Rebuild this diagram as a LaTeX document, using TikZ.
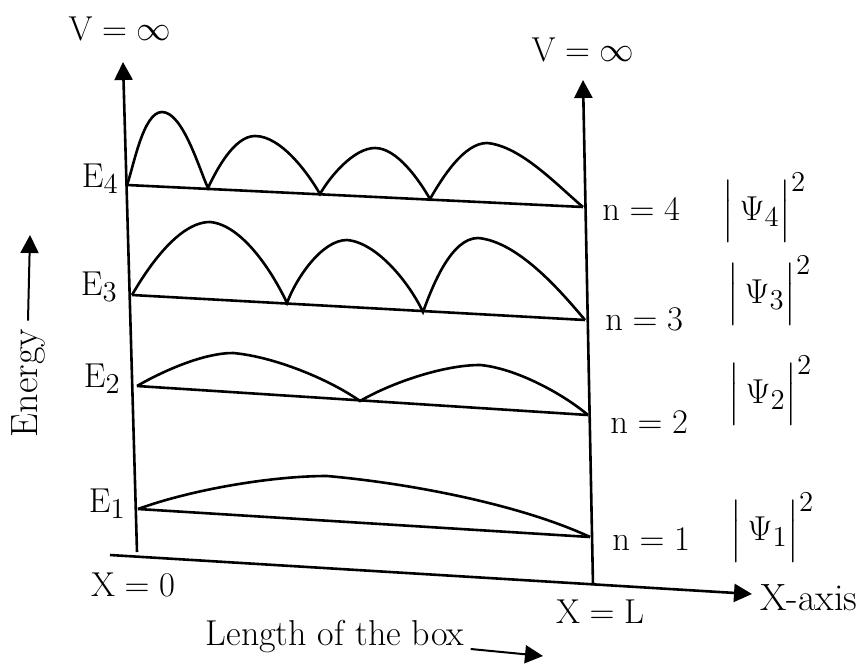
\documentclass[tikz,border=0pt]{standalone}
\usepackage{tikz}
\usetikzlibrary{arrows.meta}
\usepackage{amsmath}

\begin{document}
\begin{tikzpicture}[
  x=0.5pt, y=0.5pt,
  >={Triangle[width=9pt,length=9pt]},
  axis/.style={line width=1.3pt, black},
  level/.style={line width=1.3pt, black},
  wave/.style={line width=1.3pt, black, looseness=0.75},
  label/.style={font=\fontsize{19}{22}\selectfont, inner sep=0pt},
  small/.style={font=\fontsize{17}{20}\selectfont, inner sep=0pt}
]
\useasboundingbox (0,0) rectangle (867,666);

% Walls and x-axis
\coordinate (O) at (137,114);
\coordinate (Vleft) at (123,604);
\coordinate (Lbot) at (593,81);
\coordinate (Vright) at (583,586);
\coordinate (xstart) at (110,111);
\coordinate (xend) at (752,72);
\draw[axis, ->] (O) -- (Vleft);
\draw[axis, ->] (Lbot) -- (Vright);
\draw[axis, ->] (xstart) -- (xend);

\node[label] (vinf1) at (120,637) {$\mathrm{V}=\infty$};
\node[label] (vinf2) at (583,616) {$\mathrm{V}=\infty$};
\node[label] (x0) at (133,81) {$\mathrm{X}=0$};
\node[label] (xL) at (600,54) {$\mathrm{X}=\mathrm{L}$};
\node[label, anchor=west] (xaxis) at (760,68) {X-axis};

% Energy arrow
\node[label, rotate=90] (energy) at (28,283) {Energy};
\coordinate (etip) at (30,431);
\draw[axis, ->, line width=1pt] (energy.east) ++(0,8) -- (etip);

% Length of the box arrow
\node[label, font=\fontsize{18}{21}\selectfont] (length) at (335,29) {Length of the box};
\coordinate (ltip) at (543,10);
\draw[axis, ->, line width=1pt] (length.east) ++(6,-12) -- (ltip);

% Energy levels
\coordinate (L4) at (127,481); \coordinate (R4) at (583,459);
\coordinate (L3) at (132,371); \coordinate (R3) at (585,346);
\coordinate (L2) at (137,280); \coordinate (R2) at (588,251);
\coordinate (L1) at (138,157); \coordinate (R1) at (590,129);
\draw[level] (L4) -- (R4);
\draw[level] (L3) -- (R3);
\draw[level] (L2) -- (R2);
\draw[level] (L1) -- (R1);

\node[label, anchor=base east] (E4) at (119,479) {$\mathrm{E}_4$};
\node[label, anchor=base east] (E3) at (118,371) {$\mathrm{E}_3$};
\node[label, anchor=base east] (E2) at (121,279) {$\mathrm{E}_2$};
\node[label, anchor=base east] (E1) at (126,154) {$\mathrm{E}_1$};

% Probability densities
\draw[wave] (L4) to[out=70,in=180,looseness=0.6] (162,554) to[out=0,in=115,looseness=0.6] (208,478)
  to[out=65,in=180] (255,530) to[out=0,in=120] (320,472)
  to[out=60,in=180] (375,518) to[out=0,in=120] (430,467)
  to[out=60,in=180] (487,523) to[out=-5,in=140] (R4);
\draw[wave] (L3) to[out=60,in=180] (210,444) to[out=-5,in=115] (287,363)
  to[out=70,in=180] (347,426) to[out=-5,in=115] (423,354)
  to[out=70,in=180] (478,428) to[out=-5,in=130] (R3);
\draw[wave] (L2) to[out=30,in=180] (233,313) to[out=-5,in=145] (360,265)
  to[out=30,in=180] (480,301) to[out=-5,in=140] (R2);
\draw[wave] (L1) to[out=20,in=180] (327,190) to[out=-5,in=155] (R1);

% Quantum numbers
\node[small, anchor=base west] (n4) at (602,446) {$\mathrm{n}=4$};
\node[small, anchor=base west] (n3) at (605,336) {$\mathrm{n}=3$};
\node[small, anchor=base west] (n2) at (610,233) {$\mathrm{n}=2$};
\node[small, anchor=base west] (n1) at (612,116) {$\mathrm{n}=1$};
\node[label, anchor=base west] (psi4) at (722,446) {$\Bigl|\,\Psi_4\Bigr|^2$};
\node[label, anchor=base west] (psi3) at (727,363) {$\Bigl|\,\Psi_3\Bigr|^2$};
\node[label, anchor=base west] (psi2) at (728,263) {$\Bigl|\,\Psi_2\Bigr|^2$};
\node[label, anchor=base west] (psi1) at (730,126) {$\Bigl|\,\Psi_1\Bigr|^2$};

\end{tikzpicture}
\end{document}
